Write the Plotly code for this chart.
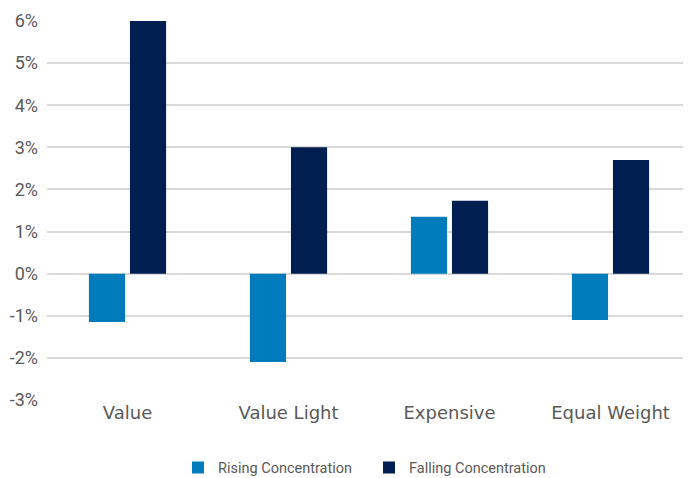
import plotly.graph_objects as go

categories = ["Value", "Value Light", "Expensive", "Equal Weight"]
rising = [-1.15, -2.1, 1.35, -1.1]
falling = [6.0, 3.0, 1.73, 2.7]
y_ticks = [-3, -2, -1, 0, 1, 2, 3, 4, 5, 6]
y_tick_labels = [f"{v}%" for v in y_ticks]

fig = go.Figure()
fig.add_bar(name="Rising Concentration", x=categories, y=rising,
            marker=dict(color="#007BBB", line=dict(width=0)))
fig.add_bar(name="Falling Concentration", x=categories, y=falling,
            marker=dict(color="#001E4F", line=dict(width=0)))

fig.update_layout(
    width=691, height=478,
    margin=dict(l=39, r=8, t=13, b=86),
    paper_bgcolor="white", plot_bgcolor="white",
    barmode="group", bargap=0.49, bargroupgap=0.12,
    font=dict(family="Roboto", color="#595959"),
    showlegend=True,
    legend=dict(orientation="h", xref="paper", x=0.5, xanchor="center",
                yref="container", y=0.072, yanchor="top",
                font=dict(size=14.5, color="#595959"), itemwidth=30,
                entrywidth=146, entrywidthmode="pixels",
                traceorder="normal"),
    xaxis=dict(showgrid=False, showline=False, zeroline=False, automargin=False,
               tickfont=dict(size=18, family="DejaVu Sans", color="#595959"), ticks=""),
    yaxis=dict(range=[-3, 6], tickvals=y_ticks, ticktext=y_tick_labels,
               showgrid=True, gridcolor="#D9D9D9", gridwidth=1.5, automargin=False,
               zeroline=True, zerolinecolor="#D9D9D9", zerolinewidth=1.5,
               showline=False, ticks="", ticklabelstandoff=8,
               tickfont=dict(size=18, color="#595959")),
)

fig.write_html("out.html")
